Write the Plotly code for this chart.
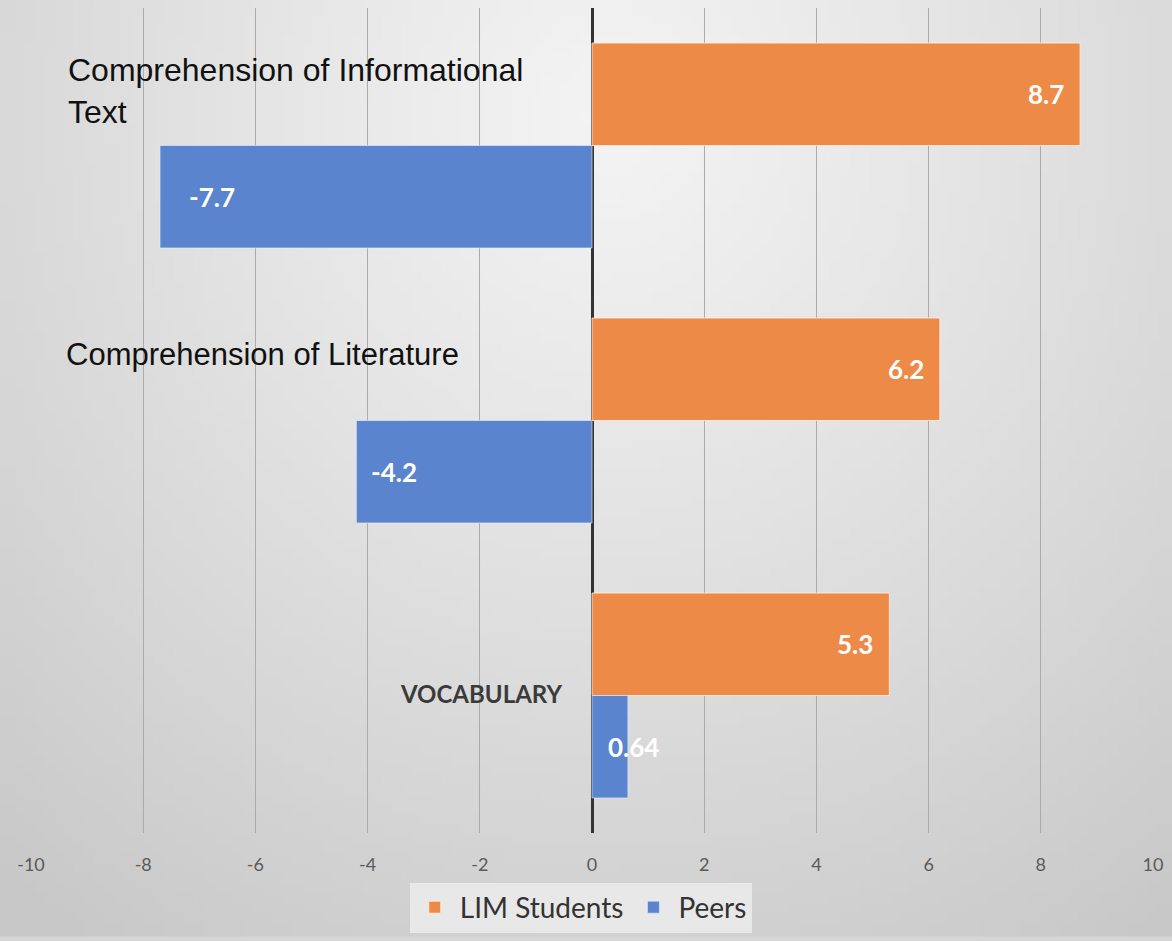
import base64, struct, zlib
import numpy as np
import plotly.graph_objects as go

categories = ["Comprehension of Informational Text", "Comprehension of Literature", "VOCABULARY"]
category_labels = ["Comprehension of Informational<br>Text", "Comprehension of Literature", "<b>VOCABULARY</b>"]
lim_students = [8.7, 6.2, 5.3]
peers = [-7.7, -4.2, 0.64]
lim_text = ["8.7", "6.2", "5.3"]
peers_text = ["-7.7", "-4.2", "0.64"]
tick_vals = [-10, -8, -6, -4, -2, 0, 2, 4, 6, 8, 10]
tick_text = ["-10", "-8", "-6", "-4", "-2", "0", "2", "4", "6", "8", "10"]

W, H = 1172, 941
ML, MR, MT, MB = 31, 19, 8, 104
PW, PH = W - ML - MR, H - MT - MB
BARGAP = 0.255

ORANGE = "#EE8A48"
BLUE = "#5B84CE"


def gradient_png(w=118, h=95):
    yy, xx = np.mgrid[0:h, 0:w]
    dx = (xx / (w - 1) - 0.52) / 0.75
    dy = (yy / (h - 1) - 0.12) / 1.0
    d = np.sqrt(dx ** 2 + dy ** 2)
    v = np.clip(244 - 40 * d ** 1.1, 200, 250).astype(np.uint8)
    raw = b"".join(b"\x00" + v[i].tobytes() for i in range(h))

    def chunk(tag, data):
        c = struct.pack(">I", len(data)) + tag + data
        return c + struct.pack(">I", zlib.crc32(tag + data) & 0xffffffff)

    png = b"\x89PNG\r\n\x1a\n" + chunk(b"IHDR", struct.pack(">IIBBBBB", w, h, 8, 0, 0, 0, 0))
    png += chunk(b"IDAT", zlib.compress(raw, 9)) + chunk(b"IEND", b"")
    return "data:image/png;base64," + base64.b64encode(png).decode()


fig = go.Figure()
fig.add_trace(go.Bar(y=categories, x=lim_students, orientation="h", name="LIM Students",
                     marker=dict(color=ORANGE, line=dict(color="rgba(255,240,225,0.8)", width=1))))
fig.add_trace(go.Bar(y=categories, x=peers, orientation="h", name="Peers",
                     marker=dict(color=BLUE, line=dict(color="rgba(230,238,255,0.6)", width=1))))

step = PH / len(categories)
bar_off = step * (1 - BARGAP) / 4
label_font = dict(family="Lato, Liberation Sans, sans-serif", size=26, color="white")

for cat, val, txt in zip(categories, lim_students, lim_text):
    fig.add_annotation(x=val, y=cat, text=f"<b>{txt}</b>", showarrow=False, xanchor="right",
                       xshift=-14, yshift=bar_off, font=label_font)
for cat, val, txt in zip(categories, peers, peers_text):
    if abs(val) < 1:
        fig.add_annotation(x=0, y=cat, text=f"<b>{txt}</b>", showarrow=False, xanchor="left",
                           xshift=14, yshift=-bar_off, font=label_font)
    else:
        fig.add_annotation(x=val, y=cat, text=f"<b>{txt}</b>", showarrow=False, xanchor="left",
                           xshift=27 if val < -6 else 13, yshift=-bar_off, font=label_font)

# category labels
fig.add_annotation(x=-9.37, y=categories[0], text=category_labels[0], showarrow=False, xanchor="left",
                   align="left", yshift=55, font=dict(family="Liberation Sans, Arial", size=32, color="#111"))
fig.add_annotation(x=-9.42, y=categories[1], text=category_labels[1], showarrow=False, xanchor="left",
                   align="left", yshift=66, font=dict(family="Liberation Sans, Arial", size=31, color="#111"))
fig.add_annotation(x=0, y=categories[2], text=category_labels[2], showarrow=False, xanchor="right",
                   xshift=-28, yshift=2, font=dict(family="Lato, Liberation Sans, sans-serif", size=24, color="#3a3a3a"))

fig.add_layout_image(dict(source=gradient_png(), xref="paper", yref="paper",
                          x=-ML / PW, y=1 + MT / PH, sizex=W / PW, sizey=H / PH,
                          xanchor="left", yanchor="top", sizing="stretch", layer="below"))

fig.update_layout(
    width=W, height=H,
    margin=dict(l=ML, r=MR, t=MT, b=MB),
    barmode="group", bargap=BARGAP, bargroupgap=0,
    paper_bgcolor="#d6d6d6", plot_bgcolor="rgba(0,0,0,0)",
    showlegend=True,
    legend=dict(orientation="h", x=0.49, xanchor="center", y=-0.06, yanchor="top",
                bgcolor="#e8e8e8", font=dict(family="Lato, Liberation Sans, sans-serif", size=28, color="#333"),
                itemwidth=40, traceorder="normal", borderwidth=0),
    xaxis=dict(range=[-10, 10], tickvals=tick_vals, ticktext=tick_text, showgrid=True, gridcolor="#ababab", gridwidth=1.2,
               zeroline=True, zerolinecolor="#333333", zerolinewidth=2.5,
               tickfont=dict(family="Lato, Liberation Sans, sans-serif", size=18, color="#5a5a5a"),
               ticks="", ticklabelstandoff=19, showline=False, fixedrange=True),
    yaxis=dict(categoryorder="array", categoryarray=categories, autorange="reversed",
               showticklabels=False, showgrid=False, zeroline=False, showline=False, fixedrange=True),
)

fig.write_html("out.html", config={"displayModeBar": False},
               post_script="document.body.style.margin='0';document.body.style.overflow='hidden';document.body.style.background='#d3d3d3';document.documentElement.style.background='#d3d3d3';")
